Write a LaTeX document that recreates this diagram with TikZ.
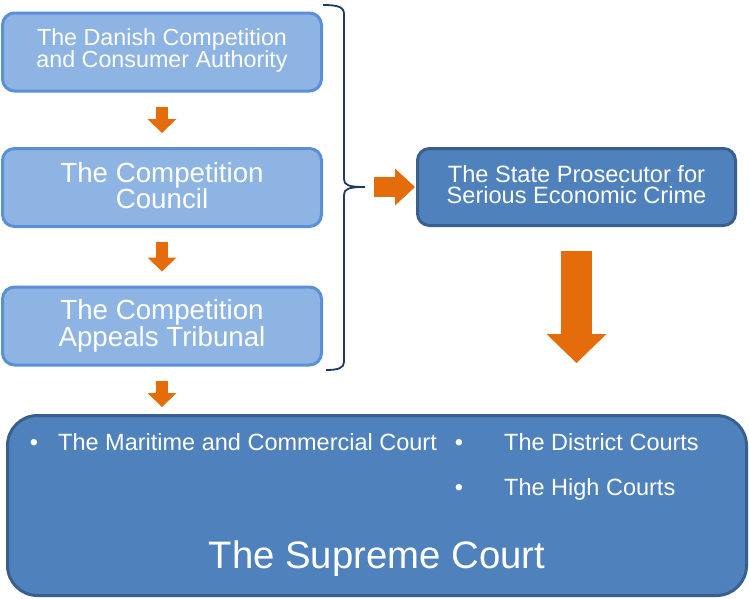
\documentclass[tikz,border=0pt]{standalone}
\usepackage{fontspec}
\setmainfont{Liberation Sans}
\usetikzlibrary{arrows.meta}
\definecolor{lightfill}{HTML}{8EB4E3}
\definecolor{lightdraw}{HTML}{5B8FD6}
\definecolor{darkfill}{HTML}{4F81BD}
\definecolor{darkdraw}{HTML}{3A5F8D}
\definecolor{orangearrow}{HTML}{E46C0A}
\definecolor{bracecol}{HTML}{1F3A60}
\begin{document}
\begin{tikzpicture}[x=1pt,y=-1pt,
  lightbox/.style={draw=lightdraw, fill=lightfill, line width=3pt, rounded corners=12pt,
    minimum width=319pt, minimum height=78pt, inner sep=0pt, text=white, align=center},
  darkbox/.style={draw=darkdraw, fill=darkfill, line width=3pt, text=white, align=center, inner sep=0pt},
  smallarrow/.style={draw=orangearrow, line width=12pt, -{Triangle[width=29pt,length=14pt,line width=0pt]}},
  sidearrow/.style={draw=orangearrow, line width=20pt, -{Triangle[width=37pt,length=20pt,line width=0pt]}},
  bigarrow/.style={draw=orangearrow, line width=31pt, -{Triangle[width=60pt,length=29pt,line width=0pt]}},
  bracestyle/.style={draw=bracecol, line width=1.8pt},
  courttext/.style={text=white, inner sep=0pt, font=\fontsize{23.5}{26}\selectfont}
]
\useasboundingbox (0,0) rectangle (749,598);

% left column boxes
\node[lightbox, text depth=8pt, font=\fontsize{23.3}{22}\selectfont] (b1) at (162,52)
  {The Danish Competition\\and Consumer Authority};
\node[lightbox, text depth=4pt, font=\fontsize{27.7}{25.5}\selectfont] (b2) at (162,187.5)
  {The Competition\\Council};
\node[lightbox, font=\fontsize{27.7}{26.5}\selectfont] (b3) at (162,326)
  {The Competition\\Appeals Tribunal};

% prosecutor
\node[darkbox, rounded corners=12pt, minimum width=318pt, minimum height=77pt, text depth=5pt,
  font=\fontsize{23.6}{21.5}\selectfont] (pros) at (576.5,187)
  {The State Prosecutor for\\Serious Economic Crime};

% courts
\node[darkbox, rounded corners=30pt, minimum width=739pt, minimum height=180pt] (court) at (377,505.5) {};
\node[courttext, anchor=base] (bul1) at (34,450) {•};
\node[courttext, anchor=base west] (mar) at (58,450) {The Maritime and Commercial Court};
\node[courttext, anchor=base] (bul2) at (459,450) {•};
\node[courttext, anchor=base west] (dis) at (504,450) {The District Courts};
\node[courttext, anchor=base] (bul3) at (459,495) {•};
\node[courttext, anchor=base west] (hig) at (504,495) {The High Courts};
\node[text=white, inner sep=0pt, anchor=base, font=\fontsize{38.3}{40}\selectfont] (sup) at (377,568) {The Supreme Court};

% brace
\coordinate (bracetip) at (365,187);
\draw[bracestyle] (323,5) .. controls (338,5) and (344,7) .. (344,14) -- (344,179)
  .. controls (344,185) and (348,187) .. (bracetip)
  .. controls (348,187) and (344,189) .. (344,195) -- (344,362)
  .. controls (344,368) and (338,370) .. (326,370);

% arrows
\draw[smallarrow, shorten <=14pt, shorten >=14pt] (b1) -- (b2);
\draw[smallarrow, shorten <=14pt, shorten >=14pt] (b2) -- (b3);
\draw[smallarrow, shorten <=14pt, shorten >=7pt] (b3.south) -- (b3.south |- court.north);
\draw[sidearrow, shorten <=9pt, shorten >=1pt] (bracetip) -- (bracetip -| pros.west);
\draw[bigarrow, shorten <=24pt, shorten >=51pt] (pros.south) -- (pros.south |- court.north);
\end{tikzpicture}
\end{document}
